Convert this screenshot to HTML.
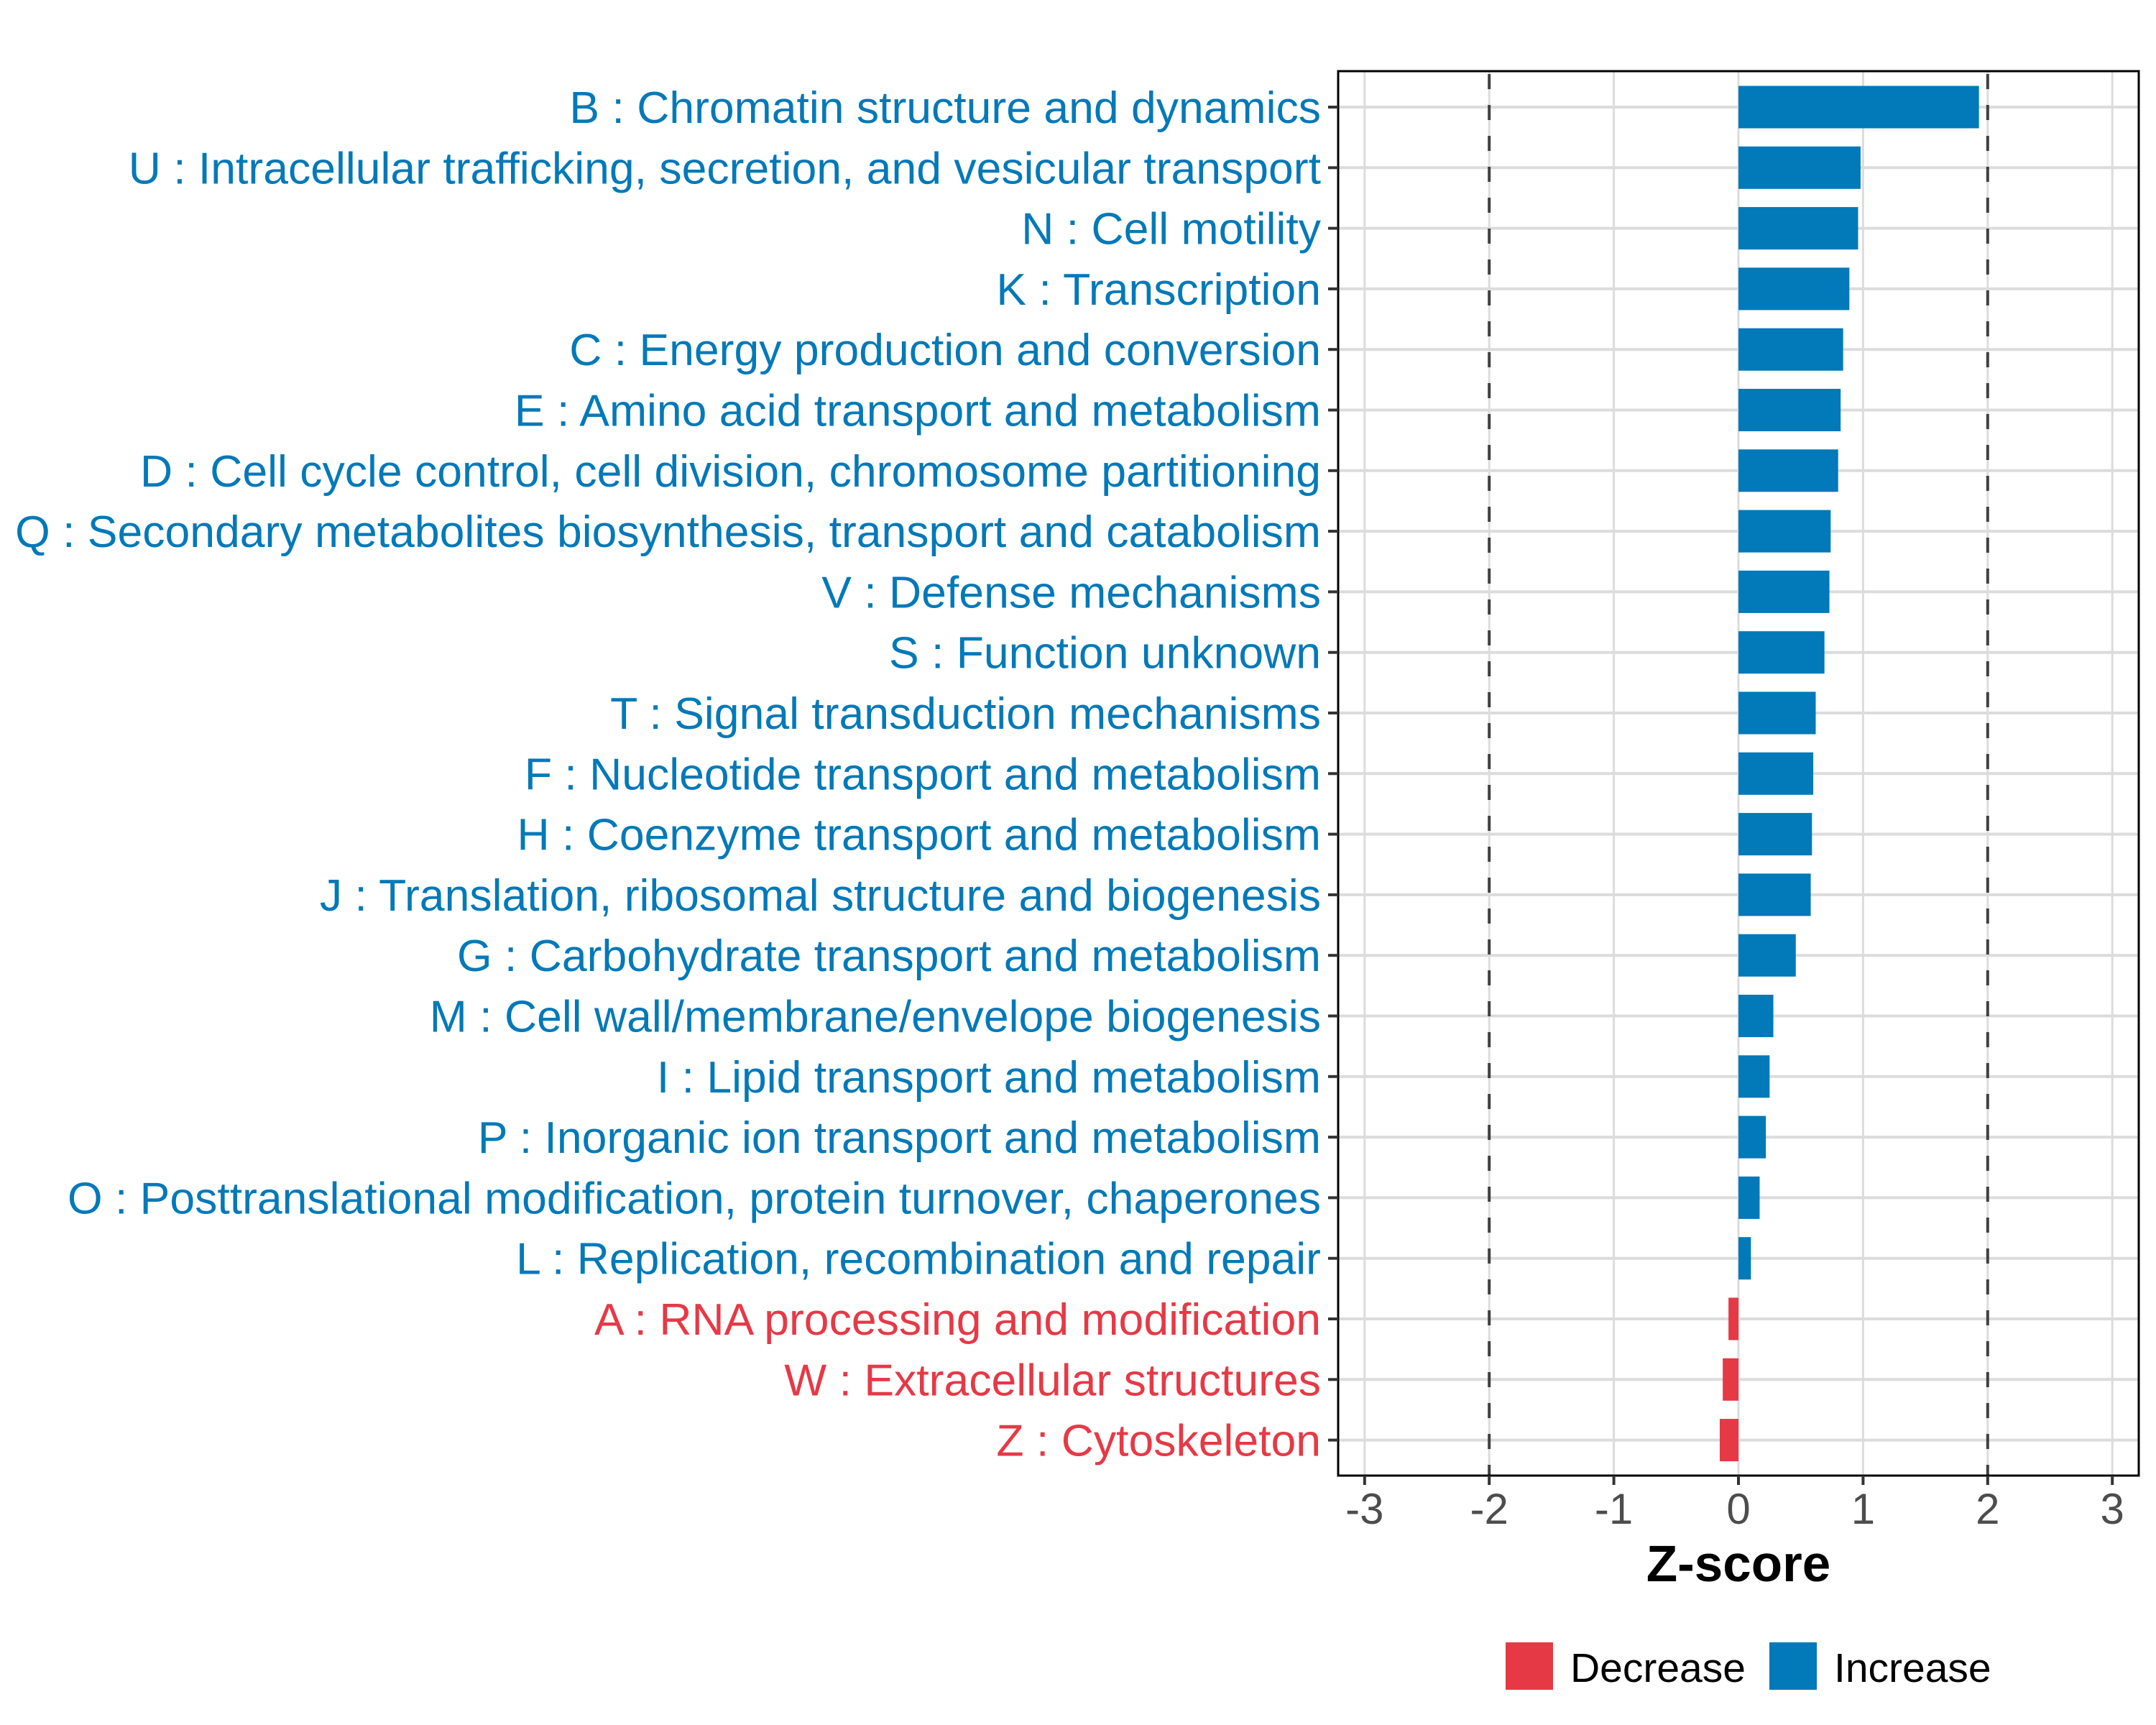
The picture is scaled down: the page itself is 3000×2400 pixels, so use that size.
<!DOCTYPE html>
<html><head><meta charset="utf-8"><style>
html,body{margin:0;padding:0;background:#fff;}
svg{display:block;font-family:"Liberation Sans",Arial,sans-serif;}
</style></head><body>
<svg id="chart" width="3000" height="2400" viewBox="0 0 3000 2400" xmlns="http://www.w3.org/2000/svg">
<rect x="0" y="0" width="3000" height="2400" fill="#fff"/>
<g id="grid"></g><g id="bars"></g><g id="frame"></g><g id="labels"></g>
</svg>
<script>
const categories = ["B : Chromatin structure and dynamics","U : Intracellular trafficking, secretion, and vesicular transport","N : Cell motility","K : Transcription","C : Energy production and conversion","E : Amino acid transport and metabolism","D : Cell cycle control, cell division, chromosome partitioning","Q : Secondary metabolites biosynthesis, transport and catabolism","V : Defense mechanisms","S : Function unknown","T : Signal transduction mechanisms","F : Nucleotide transport and metabolism","H : Coenzyme transport and metabolism","J : Translation, ribosomal structure and biogenesis","G : Carbohydrate transport and metabolism","M : Cell wall/membrane/envelope biogenesis","I : Lipid transport and metabolism","P : Inorganic ion transport and metabolism","O : Posttranslational modification, protein turnover, chaperones","L : Replication, recombination and repair","A : RNA processing and modification","W : Extracellular structures","Z : Cytoskeleton"];
const zscores = [1.93,0.98,0.96,0.89,0.84,0.82,0.80,0.74,0.73,0.69,0.62,0.60,0.59,0.58,0.46,0.28,0.25,0.22,0.17,0.10,-0.08,-0.126,-0.15];
const xTicks = [-3,-2,-1,0,1,2,3];
const thresholds = [-2,2];
const legendLabels = ["Decrease","Increase"];

const NS="http://www.w3.org/2000/svg";
const L=1862,R=2976,T=99,B=2053;
const x0=2419,unit=173.4;
const y0=149,step=84.3;
const BLUE="#0279b8",RED="#e63946";
function xs(v){return x0+v*unit;}
function ys(i){return y0+i*step;}
function mk(tag,attrs,parent){const e=document.createElementNS(NS,tag);for(const k in attrs)e.setAttribute(k,attrs[k]);parent.appendChild(e);return e;}
const grid=document.getElementById('grid'),bars=document.getElementById('bars'),frame=document.getElementById('frame'),labels=document.getElementById('labels');

xTicks.forEach(v=>{
  const g=mk('line',{x1:xs(v),x2:xs(v),y1:T,y2:B,stroke:'#dcdcdc','stroke-width':3},grid);
  
  
});
categories.forEach((c,i)=>{
  const g=mk('line',{x1:L,x2:R,y1:ys(i),y2:ys(i),stroke:'#dcdcdc','stroke-width':4},grid);
  
  
});
thresholds.forEach(v=>{
  const d=mk('line',{x1:xs(v),x2:xs(v),y1:T,y2:B,stroke:'#404040','stroke-width':4,'stroke-dasharray':'21 22','stroke-dashoffset':'-4'},grid);
  
  
});
const bh=step*0.7;
categories.forEach((c,i)=>{
  const v=zscores[i];
  const r=mk('rect',{x:Math.min(xs(0),xs(v)),y:ys(i)-bh/2,width:Math.abs(xs(v)-xs(0)),height:bh,fill:v<0?RED:BLUE},bars);
  
  
  const t=mk('text',{x:1838,y:ys(i)+22,'text-anchor':'end','font-size':62.5,fill:v<0?RED:BLUE},labels);
  t.textContent=c;
  
  
  const tk=mk('line',{x1:1848,x2:L,y1:ys(i),y2:ys(i),stroke:'#333','stroke-width':4},labels);
  
  
});
const border=mk('rect',{x:L,y:T,width:R-L,height:B-T,fill:'none',stroke:'#000','stroke-width':3},frame);


xTicks.forEach(v=>{
  const tk=mk('line',{x1:xs(v),x2:xs(v),y1:B,y2:B+13,stroke:'#333','stroke-width':4},labels);
  
  
  const t=mk('text',{x:xs(v),y:2120,'text-anchor':'middle','font-size':60,fill:'#4d4d4d'},labels);
  t.textContent=String(v);
  
  
});
const xt=mk('text',{x:xs(0),y:2200,'text-anchor':'middle','font-size':71,'font-weight':'bold',fill:'#000'},labels);
xt.textContent='Z-score';


const legX=[2095,2462],legC=[RED,BLUE];
legendLabels.forEach((lab,i)=>{
  const k=mk('rect',{x:legX[i],y:2285,width:66,height:66,fill:legC[i]},labels);
  
  
  const t=mk('text',{x:legX[i]+90,y:2340,'font-size':57,fill:'#000'},labels);
  t.textContent=lab;
  
  
});
</script>
</body></html>
